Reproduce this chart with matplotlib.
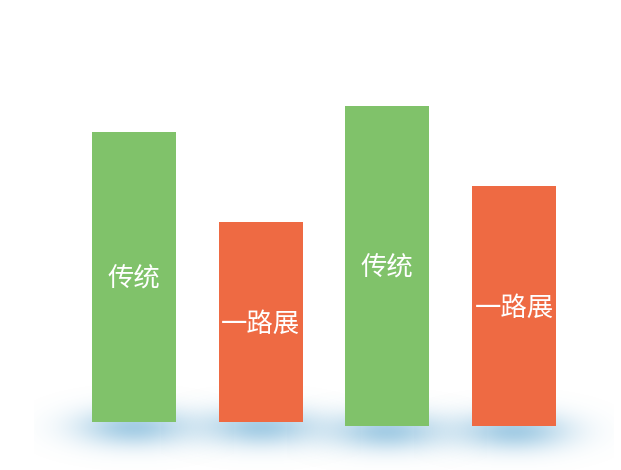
import numpy as np
import matplotlib
matplotlib.use("Agg")
import matplotlib.pyplot as plt

plt.rcParams['font.family'] = ['Noto Sans CJK SC', 'DejaVu Sans']

# 数据
labels = ['传统', '一路展', '传统', '一路展']
values = [290, 200, 320, 240]
bases = [0, 0, -4, -4]
colors = ['#80c26a', '#ee6a43', '#80c26a', '#ee6a43']
positions = [0, 1, 2, 3]

fig = plt.figure(figsize=(6.21, 4.70), dpi=100)
ax = fig.add_axes([0, 0, 1, 1])
ax.set_xlim(-1.058, 3.845)
ax.set_ylim(-48, 422)
ax.axis('off')

# 底部蓝色光晕
step = 126.67
gx = np.linspace(-1, 1, 200)
gy = np.linspace(-1, 1, 100)
XX, YY = np.meshgrid(gx, gy)
hw, hh = 100.0, 45.0  # 光晕半宽/半高(像素)
alpha = np.exp(-((XX * hw) ** 2) / (2 * 40.0 ** 2) - ((YY * hh) ** 2) / (2 * 14.0 ** 2)) * 0.6
glow = np.zeros((100, 200, 4))
glow[..., 0] = 105 / 255
glow[..., 1] = 172 / 255
glow[..., 2] = 212 / 255
glow[..., 3] = alpha

for p, b in zip(positions, bases):
    cy = b - 5
    ax.imshow(glow, extent=[p - hw / step, p + hw / step, cy - hh, cy + hh],
              aspect='auto', zorder=1, interpolation='bilinear')

bars = ax.bar(positions, values, bottom=bases, width=84 / step, color=colors, zorder=2)

for p, v, b, lab in zip(positions, values, bases, labels):
    ax.text(p, b + v / 2 - 2, lab, color='white', fontsize=19, ha='center', va='center', zorder=3)

ax.set_xlim(-1.058, 3.845)
ax.set_ylim(-48, 422)

fig.savefig('out.png', dpi=100)
